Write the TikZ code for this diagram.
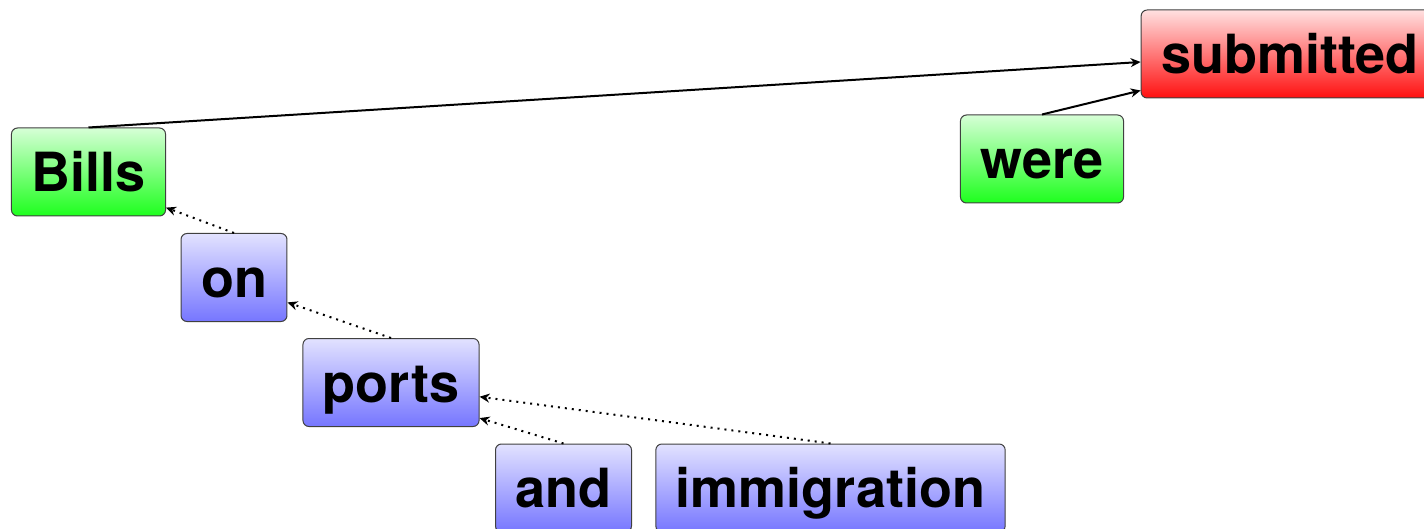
\documentclass[tikz,border=0pt]{standalone}
\usepackage{fontspec}
\setmainfont{TeX Gyre Heros}
\usetikzlibrary{arrows.meta,calc}
\definecolor{grtop}{HTML}{D6FFD6}
\definecolor{grbot}{HTML}{1EFF1E}
\definecolor{bltop}{HTML}{E2E2FF}
\definecolor{blbot}{HTML}{7676FF}
\definecolor{rdtop}{HTML}{FFE0E0}
\definecolor{rdbot}{HTML}{FF1010}
\definecolor{edge}{HTML}{404040}
\tikzset{
  word/.style={draw=edge, line width=0.5pt, rounded corners=3pt,
    font=\fontsize{27pt}{30pt}\selectfont\bfseries,
    text height=19.6pt, text depth=0pt,
    inner xsep=10pt, minimum height=44pt},
  headword/.style={word, top color=rdtop, bottom color=rdbot},
  depword/.style={word, top color=grtop, bottom color=grbot},
  modword/.style={word, top color=bltop, bottom color=blbot},
  strong/.style={line width=1pt, -{Stealth[length=5pt,width=4.5pt]}},
  weak/.style={line width=1pt, dash pattern=on 1pt off 2.5pt,
    -{Stealth[length=5pt,width=4.5pt]}}
}
\begin{document}
\begin{tikzpicture}[x=0.5pt,y=-0.5pt]
  \useasboundingbox (0,0) rectangle (1424,529);
  % words
  \node[headword] (submitted) at (1290,54) {submitted};
  \node[depword] (Bills) at (88.5,172) {Bills};
  \node[depword] (were) at (1042,159) {were};
  \node[modword] (on) at (234,277.5) {on};
  \node[modword] (ports) at (391,382.5) {ports};
  \node[modword] (and) at (563.5,488) {and};
  \node[modword] (immigration) at (830.5,488) {immigration};
  % attachment points on the heads
  \coordinate (subA) at ($(submitted.north west)!0.59!(submitted.south west)$);
  \coordinate (subB) at ($(submitted.north west)!0.91!(submitted.south west)$);
  \coordinate (billsA) at ($(Bills.north east)!0.90!(Bills.south east)$);
  \coordinate (onA) at ($(on.north east)!0.78!(on.south east)$);
  \coordinate (portsA) at ($(ports.north east)!0.66!(ports.south east)$);
  \coordinate (portsB) at ($(ports.north east)!0.90!(ports.south east)$);
  % dependencies
  \draw[strong] (Bills.north) -- (subA);
  \draw[strong] (were.north) -- (subB);
  \draw[weak] (on.north) -- (billsA);
  \draw[weak] (ports.north) -- (onA);
  \draw[weak] (immigration.north) -- (portsA);
  \draw[weak] (and.north) -- (portsB);
\end{tikzpicture}
\end{document}
